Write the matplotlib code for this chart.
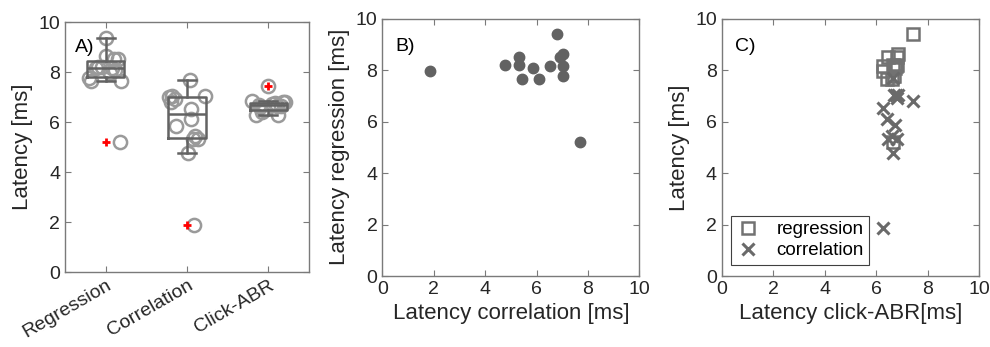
import matplotlib.pyplot as plt

plt.rcParams['font.family'] = ['Liberation Sans', 'DejaVu Sans']

# latencies per subject [ms]
lat_regression = [7.96, 8.20, 8.52, 8.20, 7.65, 8.08, 7.65, 8.15, 9.38, 8.51, 8.64, 8.15, 7.78, 5.20]
lat_correlation = [1.87, 4.76, 5.32, 5.32, 5.43, 5.86, 6.11, 6.54, 6.80, 6.93, 7.04, 7.03, 7.02, 7.70]
lat_click = [6.27, 6.64, 6.47, 6.79, 6.60, 6.73, 6.40, 6.27, 7.44, 6.80, 6.85, 6.75, 6.70, 6.65]

# horizontal spread of the circles in panel A
jit_regression = [0.05, -0.1, 0.1, -0.05, -0.18, 0.12, 0.19, -0.12, 0.0, 0.15, 0.0, 0.08, -0.2, 0.17]
jit_correlation = [0.08, 0.01, 0.07, 0.13, 0.1, -0.13, 0.05, 0.05, -0.2, -0.15, 0.22, -0.18, -0.22, 0.03]
jit_click = [-0.15, 0.1, -0.05, 0.18, -0.1, 0.05, -0.08, 0.12, 0.0, 0.2, -0.2, 0.08, -0.12, 0.15]

group_names = ['Regression', 'Correlation', 'Click-ABR']

box_col = '#636363'
circ_col = '#9a9a9a'
axis_col = '#7a7a7a'
text_col = '#262626'

fig = plt.figure(figsize=(9.9, 3.47), dpi=100)
axA = fig.add_axes([0.0657, 0.216, 0.2465, 0.720])
axB = fig.add_axes([0.3862, 0.2046, 0.2596, 0.742])
axC = fig.add_axes([0.729, 0.2046, 0.2602, 0.742])


def style(ax):
    for s in ax.spines.values():
        s.set_color(axis_col)
        s.set_linewidth(1.0)
    ax.tick_params(direction='in', top=True, right=True, length=4,
                   color=axis_col, labelcolor=text_col, labelsize=14)
    ax.set_ylim(0, 10)
    ax.set_yticks([0, 2, 4, 6, 8, 10])


# A) boxplots with single subjects
groups = [lat_regression, lat_correlation, lat_click]
jits = [jit_regression, jit_correlation, jit_click]
for i, (vals, jit) in enumerate(zip(groups, jits)):
    xs = [i + 1 + j for j in jit]
    axA.plot(xs, vals, 'o', mfc='none', mec=circ_col, ms=9.5, mew=1.8, zorder=2)

line_kw = dict(color=box_col, linewidth=1.8)
axA.boxplot(groups, positions=[1, 2, 3], widths=0.46, whis=1.7,
            boxprops=line_kw, whiskerprops=line_kw, capprops=line_kw,
            medianprops=line_kw, capwidths=0.22,
            flierprops=dict(marker='+', markeredgecolor='red', markersize=6, markeredgewidth=2),
            zorder=3)
style(axA)
axA.set_xlim(0.5, 3.5)
axA.set_xticks([1, 2, 3])
axA.set_xticklabels(group_names, rotation=30, ha='right', rotation_mode='anchor')
axA.set_ylabel('Latency [ms]', fontsize=16, color=text_col)
axA.text(0.04, 0.9, 'A)', transform=axA.transAxes, fontsize=14, va='center', color='black')

# B) regression vs correlation
axB.plot(lat_correlation, lat_regression, 'o', color='#626262', ms=7.5)
style(axB)
axB.set_xlim(0, 10)
axB.set_xticks([0, 2, 4, 6, 8, 10])
axB.set_xlabel('Latency correlation [ms]', fontsize=16, color=text_col)
axB.set_ylabel('Latency regression [ms]', fontsize=16, color=text_col)
axB.text(0.05, 0.89, 'B)', transform=axB.transAxes, fontsize=14, va='center', color='black')

# C) both methods vs click-ABR
axC.plot(lat_click, lat_regression, 's', mfc='none', mec='#727272', ms=9, mew=1.8, label='regression')
axC.plot(lat_click, lat_correlation, 'x', color='#6a6a6a', ms=8, mew=2.2, label='correlation')
style(axC)
axC.set_xlim(0, 10)
axC.set_xticks([0, 2, 4, 6, 8, 10])
axC.set_xlabel('Latency click-ABR[ms]', fontsize=16, color=text_col)
axC.set_ylabel('Latency [ms]', fontsize=16, color=text_col)
axC.text(0.05, 0.89, 'C)', transform=axC.transAxes, fontsize=14, va='center', color='black')
leg = axC.legend(loc='lower left', bbox_to_anchor=(0.038, 0.043), fontsize=13.5,
                 fancybox=False, framealpha=1, edgecolor='#404040',
                 handletextpad=0.9, borderpad=0.3, labelspacing=0.2, handlelength=1.2,
                 borderaxespad=0)
leg.get_frame().set_linewidth(0.8)

fig.savefig('out.png', dpi=100)
